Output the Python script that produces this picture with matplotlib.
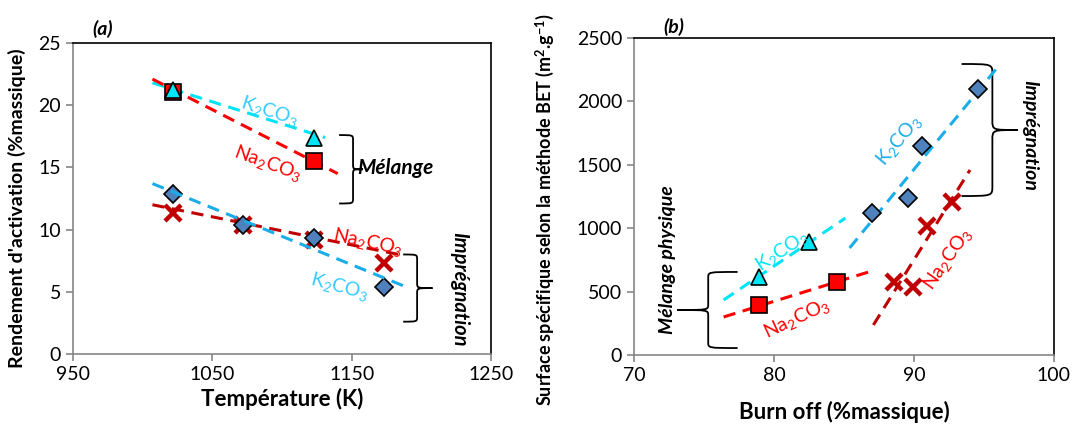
import matplotlib
matplotlib.use("Agg")
import matplotlib.pyplot as plt
from matplotlib.path import Path
from matplotlib.patches import PathPatch

plt.rcParams['font.family'] = ['Lato', 'DejaVu Sans']
plt.rcParams['mathtext.fontset'] = 'custom'
plt.rcParams['mathtext.rm'] = 'Lato'
plt.rcParams['mathtext.it'] = 'Lato:italic'
plt.rcParams['mathtext.bf'] = 'Lato:bold'

# ---------------- data : panel (a) ----------------
a_temp = [1022, 1072, 1123, 1173]
a_mel_temp = [1022, 1123]
a_mel_k2co3 = [21.2, 17.4]
a_mel_na2co3 = [21.1, 15.5]
a_imp_k2co3 = [12.9, 10.4, 9.3, 5.4]
a_imp_na2co3 = [11.3, 10.4, 9.2, 7.3]
# trend line end points
a_tr_mel_k_x = [1007, 1131]
a_tr_mel_k_y = [21.8, 17.4]
a_tr_mel_na_x = [1007, 1140]
a_tr_mel_na_y = [22.1, 14.5]
a_tr_imp_k_x = [1007, 1189]
a_tr_imp_k_y = [13.7, 5.4]
a_tr_imp_na_x = [1007, 1184]
a_tr_imp_na_y = [12.0, 8.0]

# ---------------- data : panel (b) ----------------
b_mel_k_x = [78.9, 82.5]
b_mel_k_y = [615, 891]
b_mel_na_x = [78.9, 84.5]
b_mel_na_y = [394, 576]
b_imp_k_x = [87.0, 89.6, 90.6, 94.6]
b_imp_k_y = [1120, 1238, 1648, 2098]
b_imp_na_x = [88.6, 89.9, 90.9, 92.7]
b_imp_na_y = [576, 536, 1017, 1207]
b_tr_mel_k_x = [76.4, 85.1]
b_tr_mel_k_y = [434, 1080]
b_tr_mel_na_x = [76.4, 87.2]
b_tr_mel_na_y = [300, 670]
b_tr_imp_k_x = [85.4, 95.9]
b_tr_imp_k_y = [844, 2260]
b_tr_imp_na_x = [87.1, 94.0]
b_tr_imp_na_y = [237, 1459]

CYAN = '#00E5F5'
CYAN_TXT = '#33CCFF'
BLUE_LINE = '#1BADEA'
DIAMOND = '#4F81BD'
RED = '#FF0000'
DARKRED = '#C00000'
GRAY = '#868686'

K2 = 'K$_2$CO$_3$'
NA2 = 'Na$_2$CO$_3$'


def brace(ax, x_hook, x_mid, x_tip, y_top, y_bot, lw=1.3):
    """Draw a curly brace in data coordinates, opening towards x_hook."""
    y_mid = (y_top + y_bot) / 2
    verts = [
        (x_hook, y_top), (x_mid, y_top), (x_mid, y_top), (x_mid, y_top - (y_top - y_mid) * 0.15),
        (x_mid, y_mid + (y_top - y_mid) * 0.15),
        (x_mid, y_mid), (x_mid, y_mid), (x_tip, y_mid),
        (x_mid, y_mid), (x_mid, y_mid), (x_mid, y_mid - (y_mid - y_bot) * 0.15),
        (x_mid, y_bot + (y_mid - y_bot) * 0.15),
        (x_mid, y_bot), (x_mid, y_bot), (x_hook, y_bot),
    ]
    codes = [Path.MOVETO, Path.CURVE4, Path.CURVE4, Path.CURVE4,
             Path.LINETO,
             Path.CURVE4, Path.CURVE4, Path.CURVE4,
             Path.CURVE4, Path.CURVE4, Path.CURVE4,
             Path.LINETO,
             Path.CURVE4, Path.CURVE4, Path.CURVE4]
    ax.add_patch(PathPatch(Path(verts, codes), fill=False, lw=lw, color='black',
                           clip_on=False))


def style_axes(ax):
    ax.spines['left'].set_color(GRAY)
    ax.spines['bottom'].set_color(GRAY)
    ax.spines['top'].set_color('black')
    ax.spines['right'].set_color('black')
    for s in ax.spines.values():
        s.set_linewidth(1.2)
    ax.tick_params(direction='out', length=5, width=1.2, color=GRAY,
                   labelsize=14, labelcolor='black')


fig = plt.figure(figsize=(10.79, 4.34), dpi=100)
ax1 = fig.add_axes([0.0677, 0.1843, 0.3873, 0.7166])
ax2 = fig.add_axes([0.5876, 0.182, 0.3892, 0.7304])

dash = (4, 2.5)

# ---------------- panel (a) ----------------
ax1.plot(a_tr_mel_k_x, a_tr_mel_k_y, color=CYAN, lw=2.2, dashes=dash, zorder=2)
ax1.plot(a_tr_mel_na_x, a_tr_mel_na_y, color=RED, lw=2.2, dashes=dash, zorder=2)
ax1.plot(a_tr_imp_k_x, a_tr_imp_k_y, color=BLUE_LINE, lw=2.2, dashes=dash, zorder=4)
ax1.plot(a_tr_imp_na_x, a_tr_imp_na_y, color=DARKRED, lw=2.2, dashes=dash, zorder=2)

ax1.plot(a_mel_temp, a_mel_na2co3, 's', ms=12, mfc=RED, mec='black', mew=1.2, zorder=3)
ax1.plot(a_mel_temp, a_mel_k2co3, '^', ms=11, mfc=CYAN, mec='black', mew=1.2, zorder=3)
ax1.plot(a_temp, a_imp_na2co3, 'x', ms=12, mew=3.2, color=DARKRED, zorder=3)
ax1.plot(a_temp, a_imp_k2co3, 'D', ms=9, mfc=DIAMOND, mec='black', mew=1.2, zorder=3)

ax1.set_xlim(950, 1250)
ax1.set_ylim(0, 25)
ax1.set_xticks([950, 1050, 1150, 1250])
ax1.set_yticks([0, 5, 10, 15, 20, 25])
style_axes(ax1)
ax1.set_xlabel('Température (K)', fontsize=16, fontweight='bold', labelpad=4)
ax1.set_ylabel("Rendement d'activation (%massique)", fontsize=14, fontweight='bold')
ax1.yaxis.set_label_coords(-0.112, 0.47)

ax1.text(1091, 19.5, K2, color=CYAN_TXT, fontsize=14, rotation=-18,
         ha='center', va='center')
ax1.text(1090, 15.3, NA2, color=RED, fontsize=14, rotation=-20,
         ha='center', va='center')
ax1.text(1162, 9.0, NA2, color=RED, fontsize=14, rotation=-12,
         ha='center', va='center')
ax1.text(1141, 5.4, K2, color=CYAN_TXT, fontsize=14, rotation=-15,
         ha='center', va='center')

brace(ax1, 1141, 1151, 1158, 17.6, 12.1)
ax1.text(1154, 14.95, 'Mélange', fontsize=15, fontweight='bold', style='italic',
         ha='left', va='center')
brace(ax1, 1187, 1197, 1208, 8.0, 2.6)
ax1.text(1227, 5.2, 'Imprégnation', fontsize=14.5, fontweight='bold', style='italic',
         rotation=-90, ha='center', va='center')
ax1.text(0.045, 1.015, '(a)', transform=ax1.transAxes, fontsize=14, fontweight='bold',
         style='italic', ha='left', va='bottom')

# ---------------- panel (b) ----------------
ax2.plot(b_tr_mel_k_x, b_tr_mel_k_y, color=CYAN, lw=2.2, dashes=dash, zorder=2)
ax2.plot(b_tr_mel_na_x, b_tr_mel_na_y, color=RED, lw=2.2, dashes=dash, zorder=2)
ax2.plot(b_tr_imp_k_x, b_tr_imp_k_y, color=BLUE_LINE, lw=2.2, dashes=dash, zorder=2)
ax2.plot(b_tr_imp_na_x, b_tr_imp_na_y, color=DARKRED, lw=2.2, dashes=dash, zorder=2)

ax2.plot(b_mel_na_x, b_mel_na_y, 's', ms=12, mfc=RED, mec='black', mew=1.2, zorder=3)
ax2.plot(b_mel_k_x, b_mel_k_y, '^', ms=11, mfc=CYAN, mec='black', mew=1.2, zorder=3)
ax2.plot(b_imp_na_x, b_imp_na_y, 'x', ms=12, mew=3.2, color=DARKRED, zorder=3)
ax2.plot(b_imp_k_x, b_imp_k_y, 'D', ms=9, mfc=DIAMOND, mec='black', mew=1.2, zorder=3)

ax2.set_xlim(70, 100)
ax2.set_ylim(0, 2500)
ax2.set_xticks([70, 80, 90, 100])
ax2.set_yticks([0, 500, 1000, 1500, 2000, 2500])
style_axes(ax2)
ax2.set_xlabel('Burn off (%massique)', fontsize=16, fontweight='bold', labelpad=12)
ax2.set_ylabel('Surface spécifique selon la méthode BET (m$^{\\mathbf{2}}$.g$^{\\mathbf{-1}}$)',
               fontsize=13, fontweight='bold')
ax2.yaxis.set_label_coords(-0.186, 0.46)

ax2.text(80.6, 820, K2, color=CYAN, fontsize=14, rotation=33,
         ha='center', va='center')
ax2.text(81.6, 285, NA2, color=RED, fontsize=14, rotation=25,
         ha='center', va='center')
ax2.text(88.9, 1688, K2, color=BLUE_LINE, fontsize=14, rotation=50,
         ha='center', va='center')
ax2.text(92.4, 760, NA2, color=RED, fontsize=14, rotation=55,
         ha='center', va='center')

brace(ax2, 77.4, 75.3, 73.1, 655, 55)
ax2.text(72.4, 755, 'Mélange physique', fontsize=14, fontweight='bold', style='italic',
         rotation=90, ha='center', va='center')
brace(ax2, 93.4, 95.6, 97.4, 2295, 1254)
ax2.text(98.3, 1735, 'Imprégnation', fontsize=14, fontweight='bold', style='italic',
         rotation=-90, ha='center', va='center')
ax2.text(0.07, 1.005, '(b)', transform=ax2.transAxes, fontsize=14, fontweight='bold',
         style='italic', ha='left', va='bottom')

fig.savefig('out.png', dpi=100)
